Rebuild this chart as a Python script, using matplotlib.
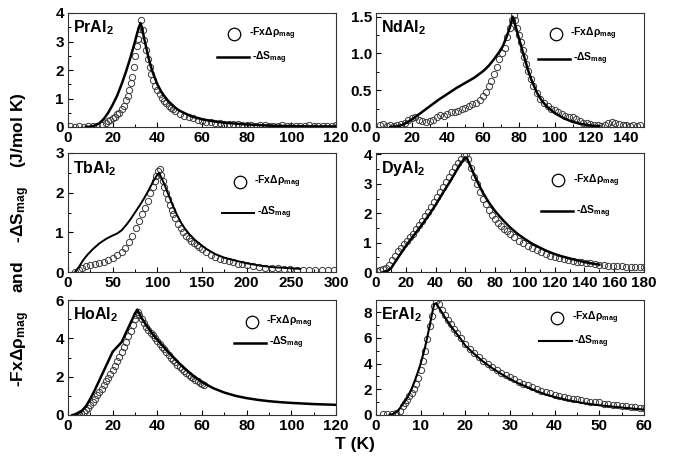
import matplotlib
matplotlib.use("Agg")
import matplotlib.pyplot as plt
from matplotlib.ticker import AutoMinorLocator, FormatStrFormatter

plt.rcParams['font.family'] = ['Liberation Sans', 'DejaVu Sans']
plt.rcParams['mathtext.default'] = 'regular'

# ---------------- PrAl2 ----------------
pr_T_line = [8, 10, 12, 14, 16, 18, 20, 22, 24, 26, 28, 30, 31, 32, 32.5, 33, 34, 35, 36, 37, 38, 40,
             42, 45, 48, 50, 55, 60, 65, 70, 80, 90, 100, 110, 120]
pr_S_line = [0, 0.01, 0.05, 0.13, 0.28, 0.5, 0.78, 1.1, 1.5, 1.95, 2.45, 3.0, 3.3, 3.55, 3.65, 3.5, 3.15,
             2.8, 2.45, 2.15, 1.9, 1.5, 1.2, 0.9, 0.68, 0.57, 0.38, 0.27, 0.2, 0.15, 0.09, 0.05, 0.03,
             0.02, 0.02]
pr_T_pts = [1, 3, 5, 7, 9, 11, 13, 15, 17, 18, 19, 20, 21, 22, 23, 24, 25, 26, 26.8, 27.5, 28.2, 28.8,
            29.5, 30.2, 30.8, 31.5, 32.2, 32.8, 33.5, 34.2, 35, 35.7, 36.5, 37.3, 38, 39, 40, 41, 42,
            43, 44, 45, 46, 47, 48, 50, 52, 54, 56, 58, 60, 62, 64, 66, 68, 70, 72, 74, 76, 78, 80, 82,
            84, 86, 88, 90, 92, 94, 96, 98, 100, 102, 104, 106, 108, 110, 112, 114, 116, 118, 120]
pr_F_pts = [0.02, 0.0, 0.02, 0.0, 0.03, 0.02, 0.05, 0.08, 0.15, 0.2, 0.26, 0.3, 0.36, 0.44, 0.5, 0.62,
            0.75, 0.95, 1.1, 1.3, 1.55, 1.75, 2.1, 2.5, 2.85, 3.1, 3.45, 3.75, 3.4, 3.05, 2.7, 2.4, 2.1,
            1.85, 1.65, 1.45, 1.3, 1.15, 1.03, 0.92, 0.83, 0.75, 0.68, 0.62, 0.55, 0.46, 0.4, 0.34, 0.3,
            0.26, 0.22, 0.19, 0.17, 0.15, 0.13, 0.12, 0.11, 0.1, 0.09, 0.07, 0.06, 0.07, 0.05, 0.06,
            0.06, 0.05, 0.04, 0.04, 0.06, 0.05, 0.04, 0.05, 0.04, 0.04, 0.06, 0.05, 0.04, 0.05, 0.05,
            0.04, 0.06]

# ---------------- NdAl2 ----------------
nd_T_line = [8, 12, 15, 20, 25, 30, 35, 40, 45, 50, 55, 60, 63, 66, 69, 71, 73, 75, 76.5, 78, 79.5, 81,
             83, 85, 87, 90, 93, 96, 100, 105, 110, 115, 120, 125]
nd_S_line = [0, 0.01, 0.03, 0.1, 0.19, 0.28, 0.37, 0.45, 0.53, 0.6, 0.67, 0.76, 0.83, 0.92, 1.02, 1.1,
             1.22, 1.36, 1.5, 1.38, 1.25, 1.12, 0.95, 0.78, 0.64, 0.47, 0.35, 0.27, 0.19, 0.12, 0.07,
             0.04, 0.02, 0.01]
nd_T_pts = [2, 4, 6, 8, 10, 12, 14, 16, 18, 20, 22, 24, 26, 28, 30, 32, 34, 36, 38, 40, 42, 44, 46, 48,
            50, 52, 54, 56, 58, 60, 61.5, 63, 64.5, 66, 67.5, 69, 70.5, 72, 73.5, 75, 76, 77, 78, 79,
            80, 81, 82, 83, 84, 85, 86.5, 88, 90, 92, 94, 96, 98, 100, 102, 104, 106, 108, 110, 112,
            114, 116, 118, 120, 122, 124, 126, 128, 130, 132, 134, 136, 138, 140, 142, 144, 146, 148]
nd_F_pts = [0.03, 0.04, 0.02, 0.03, 0.02, 0.03, 0.04, 0.06, 0.09, 0.12, 0.13, 0.1, 0.08, 0.07, 0.08,
            0.1, 0.13, 0.16, 0.15, 0.18, 0.2, 0.21, 0.22, 0.24, 0.26, 0.28, 0.31, 0.33, 0.37, 0.42, 0.48,
            0.56, 0.63, 0.72, 0.82, 0.92, 1.0, 1.08, 1.22, 1.35, 1.45, 1.52, 1.45, 1.35, 1.25, 1.15,
            1.05, 0.95, 0.85, 0.76, 0.65, 0.56, 0.46, 0.38, 0.32, 0.28, 0.25, 0.23, 0.21, 0.17, 0.15,
            0.14, 0.14, 0.11, 0.08, 0.06, 0.05, 0.04, 0.03, 0.03, 0.02, 0.03, 0.05, 0.07, 0.06, 0.04,
            0.03, 0.03, 0.02, 0.03, 0.02, 0.03]

# ---------------- TbAl2 ----------------
tb_T_line = [8, 12, 17, 22, 28, 35, 43, 50, 55, 60, 65, 70, 75, 80, 85, 90, 95, 99, 102, 105, 108, 111,
             114, 118, 122, 126, 130, 136, 142, 148, 155, 165, 175, 185, 200, 215, 230, 245, 260]
tb_S_line = [0, 0.12, 0.3, 0.44, 0.58, 0.72, 0.84, 0.92, 0.97, 1.05, 1.18, 1.33, 1.5, 1.67, 1.85, 2.05,
             2.27, 2.42, 2.5, 2.36, 2.2, 2.03, 1.86, 1.64, 1.44, 1.27, 1.12, 0.95, 0.81, 0.7, 0.58,
             0.45, 0.36, 0.3, 0.22, 0.16, 0.12, 0.1, 0.08]
tb_T_pts = [8, 12, 16, 20, 25, 30, 35, 40, 45, 50, 55, 60, 64, 68, 72, 76, 80, 83, 86, 89, 92, 95, 97,
            99, 101, 102.5, 104, 106, 108, 110, 112, 114, 116, 118, 120, 123, 126, 129, 132, 135, 138,
            141, 144, 147, 150, 155, 160, 165, 170, 175, 180, 185, 190, 195, 200, 207, 214, 221, 228,
            235, 242, 249, 256, 263, 270, 277, 284, 291, 298]
tb_F_pts = [0.0, 0.05, 0.1, 0.14, 0.17, 0.2, 0.22, 0.26, 0.3, 0.35, 0.42, 0.5, 0.6, 0.75, 0.92, 1.1,
            1.28, 1.45, 1.62, 1.8, 1.98, 2.15, 2.3, 2.42, 2.55, 2.6, 2.45, 2.3, 2.15, 2.0, 1.85, 1.7,
            1.57, 1.45, 1.35, 1.22, 1.1, 1.0, 0.92, 0.85, 0.79, 0.73, 0.67, 0.62, 0.57, 0.5, 0.44, 0.39,
            0.34, 0.3, 0.27, 0.24, 0.21, 0.19, 0.17, 0.15, 0.13, 0.11, 0.1, 0.09, 0.08, 0.07, 0.06,
            0.06, 0.05, 0.05, 0.04, 0.04, 0.04]

# ---------------- DyAl2 ----------------
dy_T_line = [5, 8, 10, 13, 16, 20, 25, 30, 35, 40, 45, 50, 54, 57, 60, 61, 63, 66, 69, 72, 76, 80, 85,
             90, 95, 100, 105, 110, 115, 120, 125, 130, 135, 140, 145, 150]
dy_S_line = [0, 0.05, 0.12, 0.35, 0.58, 0.88, 1.22, 1.55, 1.9, 2.28, 2.7, 3.1, 3.45, 3.7, 3.9, 3.88,
             3.65, 3.3, 2.98, 2.68, 2.35, 2.07, 1.78, 1.52, 1.3, 1.12, 0.96, 0.83, 0.71, 0.61, 0.53,
             0.46, 0.4, 0.34, 0.29, 0.25]
dy_T_pts = [1, 3, 5, 7, 9, 11, 13, 15, 17, 19, 21, 23, 25, 27, 29, 31, 33, 35, 37, 39, 41, 43, 45, 47,
            49, 51, 53, 55, 57, 59, 60.5, 62, 64, 66, 68, 70, 72, 74, 76, 78, 80, 82, 84, 86, 88, 90,
            93, 96, 99, 102, 105, 108, 111, 114, 117, 120, 123, 126, 129, 132, 135, 138, 141, 144,
            147, 150, 153, 156, 159, 162, 165, 168, 171, 174, 177, 180]
dy_F_pts = [0.05, 0.07, 0.1, 0.15, 0.25, 0.4, 0.55, 0.7, 0.82, 0.95, 1.05, 1.18, 1.3, 1.45, 1.6, 1.75,
            1.9, 2.05, 2.2, 2.38, 2.55, 2.72, 2.9, 3.08, 3.25, 3.42, 3.58, 3.72, 3.85, 3.97, 4.02,
            3.85, 3.55, 3.25, 2.98, 2.72, 2.5, 2.3, 2.12, 1.95, 1.8, 1.68, 1.57, 1.47, 1.38, 1.3,
            1.18, 1.07, 0.97, 0.89, 0.81, 0.74, 0.67, 0.61, 0.56, 0.52, 0.48, 0.44, 0.41, 0.38, 0.35,
            0.33, 0.31, 0.29, 0.27, 0.25, 0.23, 0.22, 0.2, 0.19, 0.2, 0.18, 0.17, 0.16, 0.17, 0.18]

# ---------------- HoAl2 ----------------
ho_T_line = [2, 4, 6, 8, 10, 12, 14, 16, 18, 20, 22, 24, 26, 28, 30, 31, 33, 35, 38, 41, 44, 48, 52,
             56, 60, 65, 70, 75, 80, 85, 90, 95, 100, 105, 110, 115, 120]
ho_S_line = [0, 0.05, 0.2, 0.45, 0.85, 1.3, 1.8, 2.3, 2.8, 3.3, 3.55, 3.8, 4.3, 4.8, 5.3, 5.5, 5.05,
             4.7, 4.2, 3.8, 3.4, 2.9, 2.45, 2.05, 1.72, 1.4, 1.17, 1.0, 0.88, 0.79, 0.72, 0.67, 0.63,
             0.6, 0.57, 0.55, 0.53]
ho_T_pts = [4, 5, 6, 7, 8, 9, 10, 11, 12, 13, 14, 15, 16, 17, 18, 19, 20, 21, 22, 23, 24, 25, 26, 27,
            28, 29, 30, 30.5, 31.2, 32, 33, 34, 35, 36, 37, 38, 39, 40, 41, 42, 43, 44, 45, 46, 47, 48,
            49, 50, 51, 52, 53, 54, 55, 56, 57, 58, 59, 60, 61]
ho_F_pts = [0.0, 0.03, 0.08, 0.15, 0.25, 0.38, 0.52, 0.68, 0.85, 1.02, 1.2, 1.38, 1.56, 1.75, 1.95,
            2.15, 2.35, 2.55, 2.8, 3.05, 3.3, 3.55, 3.8, 4.1, 4.4, 4.7, 5.0, 5.2, 5.35, 5.2, 5.0, 4.8,
            4.6, 4.45, 4.3, 4.15, 4.0, 3.85, 3.7, 3.55, 3.42, 3.3, 3.15, 3.0, 2.88, 2.76, 2.63, 2.5,
            2.4, 2.3, 2.2, 2.1, 2.0, 1.92, 1.84, 1.76, 1.68, 1.6, 1.55]

# ---------------- ErAl2 ----------------
er_T_line = [3, 4, 5, 6, 7, 8, 9, 10, 11, 12, 12.5, 13, 13.5, 14, 15, 16, 17, 18, 19, 20, 22, 24, 26,
             28, 30, 32, 34, 36, 38, 40, 43, 46, 49, 52, 55, 58, 60]
er_S_line = [0, 0.1, 0.35, 0.85, 1.35, 2.05, 2.95, 4.0, 5.3, 6.9, 7.8, 8.6, 8.7, 8.4, 7.85, 7.3, 6.8,
             6.35, 5.9, 5.4, 4.75, 4.15, 3.65, 3.2, 2.8, 2.45, 2.15, 1.85, 1.6, 1.4, 1.15, 0.95, 0.8,
             0.68, 0.58, 0.48, 0.42]
er_T_pts = [1.5, 2.5, 3.5, 4.5, 5.3, 6, 6.5, 7, 7.5, 8, 8.5, 9, 9.5, 10, 10.5, 11, 11.5, 12, 12.5, 13,
            13.5, 14, 14.7, 15.4, 16.1, 16.8, 17.5, 18.2, 19, 20, 21, 22, 23, 24, 25, 26, 27, 28, 29,
            30, 31, 32, 33, 34, 35, 36, 37, 38, 39, 40, 41, 42, 43, 44, 45, 46, 47, 48, 49, 50, 51, 52,
            53, 54, 55, 56, 57, 58, 59, 60]
er_F_pts = [0.1, 0.05, 0.08, 0.15, 0.35, 0.7, 0.95, 1.2, 1.5, 1.75, 2.0, 2.4, 2.9, 3.5, 4.2, 5.0, 5.9,
            6.9, 7.7, 8.5, 8.9, 8.6, 8.2, 7.8, 7.4, 7.05, 6.7, 6.35, 6.0, 5.55, 5.15, 4.8, 4.5, 4.2,
            3.95, 3.7, 3.5, 3.3, 3.1, 2.95, 2.78, 2.6, 2.45, 2.3, 2.15, 2.0, 1.88, 1.78, 1.68, 1.58,
            1.5, 1.42, 1.35, 1.28, 1.22, 1.2, 1.1, 1.02, 1.0, 0.98, 0.88, 0.82, 0.78, 0.75, 0.7, 0.68,
            0.63, 0.6, 0.55, 0.55]

# compound names, axis ranges and ticks
names = ['PrAl', 'NdAl', 'TbAl', 'DyAl', 'HoAl', 'ErAl']
x_ticks = [[0, 20, 40, 60, 80, 100, 120],
           [0, 20, 40, 60, 80, 100, 120, 140],
           [0, 50, 100, 150, 200, 250, 300],
           [0, 20, 40, 60, 80, 100, 120, 140, 160, 180],
           [0, 20, 40, 60, 80, 100, 120],
           [0, 10, 20, 30, 40, 50, 60]]
x_max = [120, 150, 300, 180, 120, 60]
y_ticks = [[0, 1, 2, 3, 4],
           [0.0, 0.5, 1.0, 1.5],
           [0, 1, 2, 3],
           [0, 1, 2, 3, 4],
           [0, 2, 4, 6],
           [0, 2, 4, 6, 8]]
y_max = [4, 1.55, 3, 4.05, 6, 8.95]

line_T = [pr_T_line, nd_T_line, tb_T_line, dy_T_line, ho_T_line, er_T_line]
line_S = [pr_S_line, nd_S_line, tb_S_line, dy_S_line, ho_S_line, er_S_line]
pts_T = [pr_T_pts, nd_T_pts, tb_T_pts, dy_T_pts, ho_T_pts, er_T_pts]
pts_F = [pr_F_pts, nd_F_pts, tb_F_pts, dy_F_pts, ho_F_pts, er_F_pts]

# layout (figure pixels: left, top, bottom of each frame)
W, H = 682, 470
col_left = [68, 376]
row_span = [(13, 127), (153, 272), (300, 415)]
frame_w = 268

# legend anchor per panel (axes fraction): circle x, circle y, line y
legend_pos = [(0.62, 0.82, 0.61), (0.67, 0.82, 0.60), (0.64, 0.76, 0.50),
              (0.68, 0.77, 0.51), (0.685, 0.81, 0.63), (0.675, 0.845, 0.64)]
line_widths = [1.8, 1.8, 1.4, 1.8, 1.8, 1.5]

fig = plt.figure(figsize=(W / 100, H / 100), dpi=100)

for i in range(6):
    r, c = divmod(i, 2)
    top, bot = row_span[r]
    ax = fig.add_axes([col_left[c] / W, 1 - bot / H, frame_w / W, (bot - top) / H])

    ax.plot(pts_T[i], pts_F[i], 'o', ms=4.5, mfc='none', mec='#3a3a3a', mew=0.7, zorder=2)
    ax.plot(line_T[i], line_S[i], '-', color='black', lw=line_widths[i], zorder=3)

    ax.set_xlim(0, x_max[i])
    ax.set_ylim(0, y_max[i])
    ax.set_xticks(x_ticks[i])
    ax.set_yticks(y_ticks[i])
    if i == 1:
        ax.yaxis.set_major_formatter(FormatStrFormatter('%.1f'))
    ax.xaxis.set_minor_locator(AutoMinorLocator(2))
    ax.yaxis.set_minor_locator(AutoMinorLocator(2))
    ax.tick_params(which='major', direction='in', length=3.5, width=0.8, labelsize=11, pad=3)
    ax.tick_params(which='minor', direction='in', length=2, width=0.7)
    for lab in ax.get_xticklabels() + ax.get_yticklabels():
        lab.set_fontweight('bold')
    for s in ax.spines.values():
        s.set_linewidth(0.8)
        s.set_color('#333333')

    ax.text(0.018, 0.95, names[i] + r'$_{2}$', transform=ax.transAxes, ha='left', va='top',
            fontsize=11.5, fontweight='bold')

    cx, cy, ly = legend_pos[i]
    ax.plot([cx], [cy], 'o', ms=9, mfc='none', mec='black', mew=0.9,
            transform=ax.transAxes, clip_on=False)
    ax.text(cx + 0.055, cy, r'-FxΔρ$_{mag}$', transform=ax.transAxes, ha='left', va='center',
            fontsize=7.5, fontweight='bold')
    ax.plot([cx - 0.065, cx + 0.055], [ly, ly], '-', color='black', lw=line_widths[i],
            transform=ax.transAxes, clip_on=False)
    ax.text(cx + 0.065, ly, r'-ΔS$_{mag}$', transform=ax.transAxes, ha='left', va='center',
            fontsize=7.5, fontweight='bold')

fig.text(0.03, 1 - 240 / H, r'-FxΔρ$_{mag}$    and    -ΔS$_{mag}$    (J/mol K)', rotation=90,
         ha='center', va='center', fontsize=12.5, fontweight='bold')
fig.text(355 / W, 1 - 445 / H, 'T (K)', ha='center', va='center', fontsize=12.5, fontweight='bold')

fig.savefig('out.png', dpi=100)
